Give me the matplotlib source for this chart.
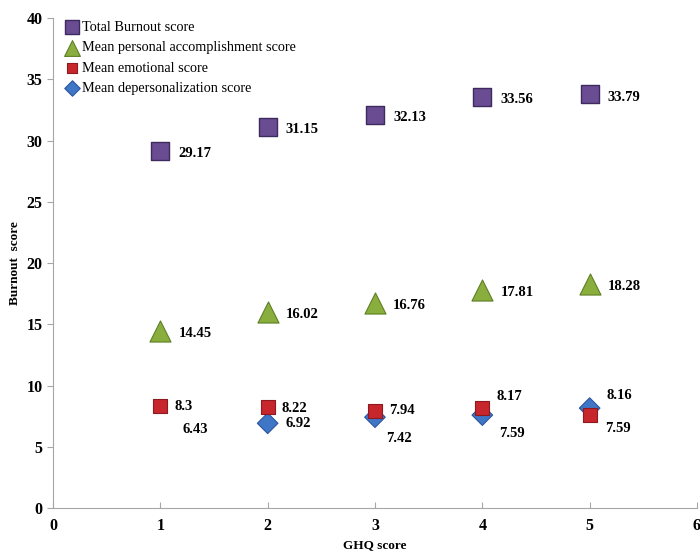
import numpy as np
import matplotlib
matplotlib.use("Agg")
import matplotlib.pyplot as plt

plt.rcParams['font.family'] = ['Liberation Serif', 'DejaVu Serif']

# data
ghq = [1, 2, 3, 4, 5]
total = [29.17, 31.15, 32.13, 33.56, 33.79]
accomp = [14.45, 16.02, 16.76, 17.81, 18.28]
emot = [8.3, 8.22, 7.94, 8.17, 7.59]
deper = [6.43, 6.92, 7.42, 7.59, 8.16]

fig = plt.figure(figsize=(7.0, 5.54), dpi=100)
ax = fig.add_axes([0.0757, 0.083, 0.92, 0.884])

ax.scatter(ghq, total, marker='s', s=170, c='#6a4c93', edgecolors='#3d2a5e', linewidths=1.0,
           label='Total Burnout score', zorder=3)
ax.scatter(ghq, accomp, marker='^', s=230, c='#8aae3e', edgecolors='#5f7f25', linewidths=0.8,
           label='Mean personal accomplishment score', zorder=3)
# the first depersonalization point is drawn almost invisible in the original
dcol = ['#ffffff'] + ['#3f76c6'] * 4
decol = ['#ffffff'] + ['#2a55a0'] * 4
ax.scatter(ghq, deper, marker='D', s=110, c=dcol, edgecolors=decol, linewidths=0.8, zorder=3)
ax.scatter(ghq, emot, marker='s', s=100, c='#c8262d', edgecolors='#8e1a1f', linewidths=0.8,
           label='Mean emotional score', zorder=4)
ax.scatter([], [], marker='D', s=110, c='#3f76c6', edgecolors='#2a55a0', linewidths=0.8,
           label='Mean depersonalization score')

lbl = dict(fontsize=10.5, fontweight='bold', va='center', ha='left')
for x, v in zip(ghq, total):
    ax.annotate(f'{v:g}', (x, v), xytext=(13, -2), textcoords='offset points', **lbl)
for x, v in zip(ghq, accomp):
    ax.annotate(f'{v:g}', (x, v), xytext=(13, -2), textcoords='offset points', **lbl)

emot_off = [(10, 0), (10, -1), (10, 0), (10, 8), (11, -10)]
dep_off = [(16, 0), (13, 0), (8, -15), (12, -13), (12, 9)]
for x, v, o in zip(ghq, emot, emot_off):
    ax.annotate(f'{v:g}', (x, v), xytext=o, textcoords='offset points', **lbl)
for x, v, o in zip(ghq, deper, dep_off):
    ax.annotate(f'{v:g}', (x, v), xytext=o, textcoords='offset points', **lbl)

ax.set_xlim(0, 6)
ax.set_ylim(0, 40)
ax.set_xticks(range(0, 7))
ax.set_yticks(range(0, 41, 5))
for s in ['top', 'right']:
    ax.spines[s].set_visible(False)
for s in ['left', 'bottom']:
    ax.spines[s].set_color('#a6a6a6')
ax.tick_params(axis='both', colors='#a6a6a6', labelcolor='black', labelsize=11.5, length=4)
ax.tick_params(axis='x', direction='in', pad=7)
for t in ax.get_xticklabels() + ax.get_yticklabels():
    t.set_fontweight('bold')

ax.set_xlabel('GHQ score', fontsize=9.5, fontweight='bold', labelpad=4)
ax.set_ylabel('Burnout  score', fontsize=9.5, fontweight='bold', labelpad=4)

leg = ax.legend(loc='upper left', frameon=False, fontsize=10.3, handletextpad=0.05,
                borderaxespad=0.0, borderpad=0.1, labelspacing=0.5, handlelength=1.3,
                markerscale=0.75, bbox_to_anchor=(0.013, 0.997))

fig.savefig('out.png', dpi=100)
